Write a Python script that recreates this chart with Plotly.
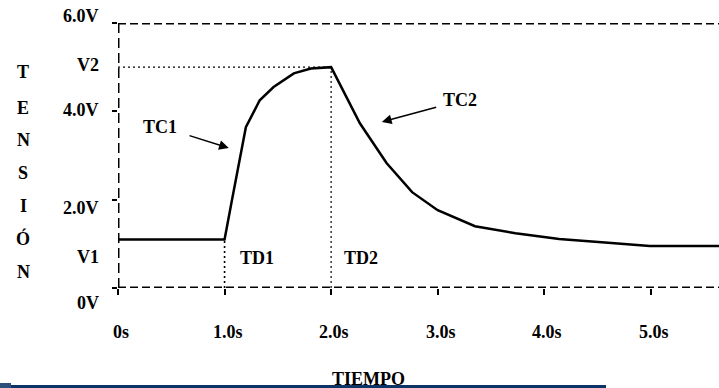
import plotly.graph_objects as go

# ---- data ----
t_curve = [0.0, 1.0, 1.07, 1.20, 1.33, 1.46, 1.65, 1.81, 2.0,
           2.27, 2.52, 2.76, 3.0, 3.25, 3.35, 3.73, 4.14, 4.63, 4.99, 5.67]
v_curve = [1.1, 1.1, 2.0, 3.64, 4.25, 4.55, 4.86, 4.97, 5.0,
           3.73, 2.83, 2.17, 1.76, 1.49, 1.40, 1.24, 1.11, 1.02, 0.95, 0.95]

V1 = 1.1
V2 = 5.0
TD1 = 1.0
TD2 = 2.0

x_tick_vals = [0, 1, 2, 3, 4, 5]
x_tick_text = ["0s", "1.0s", "2.0s", "3.0s", "4.0s", "5.0s"]
y_tick_vals = [0, 2, 4, 6]
y_label_text = ["6.0V", "V2", "4.0V", "2.0V", "V1", "0V"]
y_label_pos = [6.16, 5.05, 4.03, 1.81, 0.70, -0.34]

y_title_letters = ["T", "E", "N", "S", "I", "Ó", "N"]
x_title = "TIEMPO"

X_MAX = 5.64
Y_MAX = 6.0

FONT = "Liberation Serif"
fs = 18

# pixel helpers for the 719x388 page (plot area: x 118..719, y 23..288)
def px_x(p):
    return (p - 118) / 601.0

def px_y(p):
    return (288 - p) / 265.0

fig = go.Figure()

# reference dotted lines
fig.add_trace(go.Scatter(x=[0, TD2], y=[V2, V2], mode="lines",
                         line=dict(color="black", width=1.2, dash="2px,3px"),
                         hoverinfo="skip", showlegend=False))
fig.add_trace(go.Scatter(x=[TD1, TD1], y=[0, V1], mode="lines",
                         line=dict(color="black", width=1.6, dash="2px,3px"),
                         hoverinfo="skip", showlegend=False))
fig.add_trace(go.Scatter(x=[TD2, TD2], y=[0, V2], mode="lines",
                         line=dict(color="black", width=1.2, dash="2px,3px"),
                         hoverinfo="skip", showlegend=False))

# main curve
fig.add_trace(go.Scatter(x=t_curve, y=v_curve, mode="lines",
                         line=dict(color="black", width=2.5),
                         showlegend=False))

shapes = []
dash = dict(color="black", width=3, dash="8px,4px")
shapes.append(dict(type="line", xref="x", yref="y", x0=0, x1=X_MAX, y0=Y_MAX, y1=Y_MAX, line=dash))
shapes.append(dict(type="line", xref="x", yref="y", x0=0, x1=X_MAX, y0=0, y1=0, line=dash))
shapes.append(dict(type="line", xref="x", yref="y", x0=0, x1=0, y0=0, y1=Y_MAX,
                   line=dict(color="black", width=3, dash="10px,5px")))
# bottom navy bar
shapes.append(dict(type="rect", xref="paper", yref="paper",
                   x0=px_x(0), x1=px_x(606), y0=px_y(388), y1=px_y(385),
                   line=dict(width=0), fillcolor="#0d3466"))
shapes.append(dict(type="rect", xref="paper", yref="paper",
                   x0=px_x(0), x1=px_x(11), y0=px_y(388), y1=px_y(383),
                   line=dict(width=0), fillcolor="#2c4f7c"))

tf = dict(family=FONT, size=fs, color="black")
annotations = []
for v, txt in zip(x_tick_vals, x_tick_text):
    annotations.append(dict(x=v / X_MAX, y=0, xref="paper", yref="paper", text="<b>%s</b>" % txt,
                            showarrow=False, xanchor="center", yanchor="middle",
                            yshift=-44, xshift=3, font=tf))
for yp, txt in zip(y_label_pos, y_label_text):
    annotations.append(dict(x=0, y=yp / Y_MAX, xref="paper", yref="paper", text="<b>%s</b>" % txt,
                            showarrow=False, xanchor="right", yanchor="middle",
                            xshift=-17, font=tf))
letter_px = [72, 108, 140, 173, 206, 238, 272]
for ch, p in zip(y_title_letters, letter_px):
    annotations.append(dict(x=px_x(23), y=px_y(p), xref="paper", yref="paper",
                            text="<b>%s</b>" % ch, showarrow=False,
                            xanchor="center", yanchor="middle", font=tf))
annotations.append(dict(x=px_x(368), y=px_y(379), xref="paper", yref="paper",
                        text="<b>%s</b>" % x_title, showarrow=False,
                        xanchor="center", yanchor="middle", font=tf))
# curve labels
annotations.append(dict(x=1.04, y=3.17, ax=0.657, ay=3.46, xref="x", yref="y",
                        axref="x", ayref="y", text="", showarrow=True,
                        arrowhead=2, arrowsize=1.3, arrowwidth=1.5, arrowcolor="black"))
annotations.append(dict(x=0.394, y=3.65, xref="x", yref="y", text="<b>TC1</b>",
                        showarrow=False, font=tf))
annotations.append(dict(x=2.476, y=3.76, ax=3.00, ay=4.10, xref="x", yref="y",
                        axref="x", ayref="y", text="", showarrow=True,
                        arrowhead=2, arrowsize=1.3, arrowwidth=1.5, arrowcolor="black"))
annotations.append(dict(x=3.21, y=4.26, xref="x", yref="y", text="<b>TC2</b>",
                        showarrow=False, font=tf))
annotations.append(dict(x=TD1 + 0.30, y=0.68, xref="x", yref="y", text="<b>TD1</b>",
                        showarrow=False, font=tf))
annotations.append(dict(x=TD2 + 0.28, y=0.68, xref="x", yref="y", text="<b>TD2</b>",
                        showarrow=False, font=tf))

fig.update_layout(
    width=719, height=388,
    margin=dict(l=118, r=0, t=23, b=100),
    paper_bgcolor="white", plot_bgcolor="white",
    shapes=shapes, annotations=annotations,
    xaxis=dict(range=[0, X_MAX], showgrid=False, zeroline=False, showline=False,
               tickvals=x_tick_vals, ticktext=[""] * len(x_tick_vals),
               ticks="outside", ticklen=6, tickwidth=2, tickcolor="black"),
    yaxis=dict(range=[0, Y_MAX], showgrid=False, zeroline=False, showline=False,
               tickvals=y_tick_vals, ticktext=[""] * len(y_tick_vals),
               ticks="outside", ticklen=5, tickwidth=2, tickcolor="black"),
)

fig.write_html("out.html", config={"displayModeBar": False},
               post_script="document.body.style.margin='0px';document.body.style.overflow='hidden';")
